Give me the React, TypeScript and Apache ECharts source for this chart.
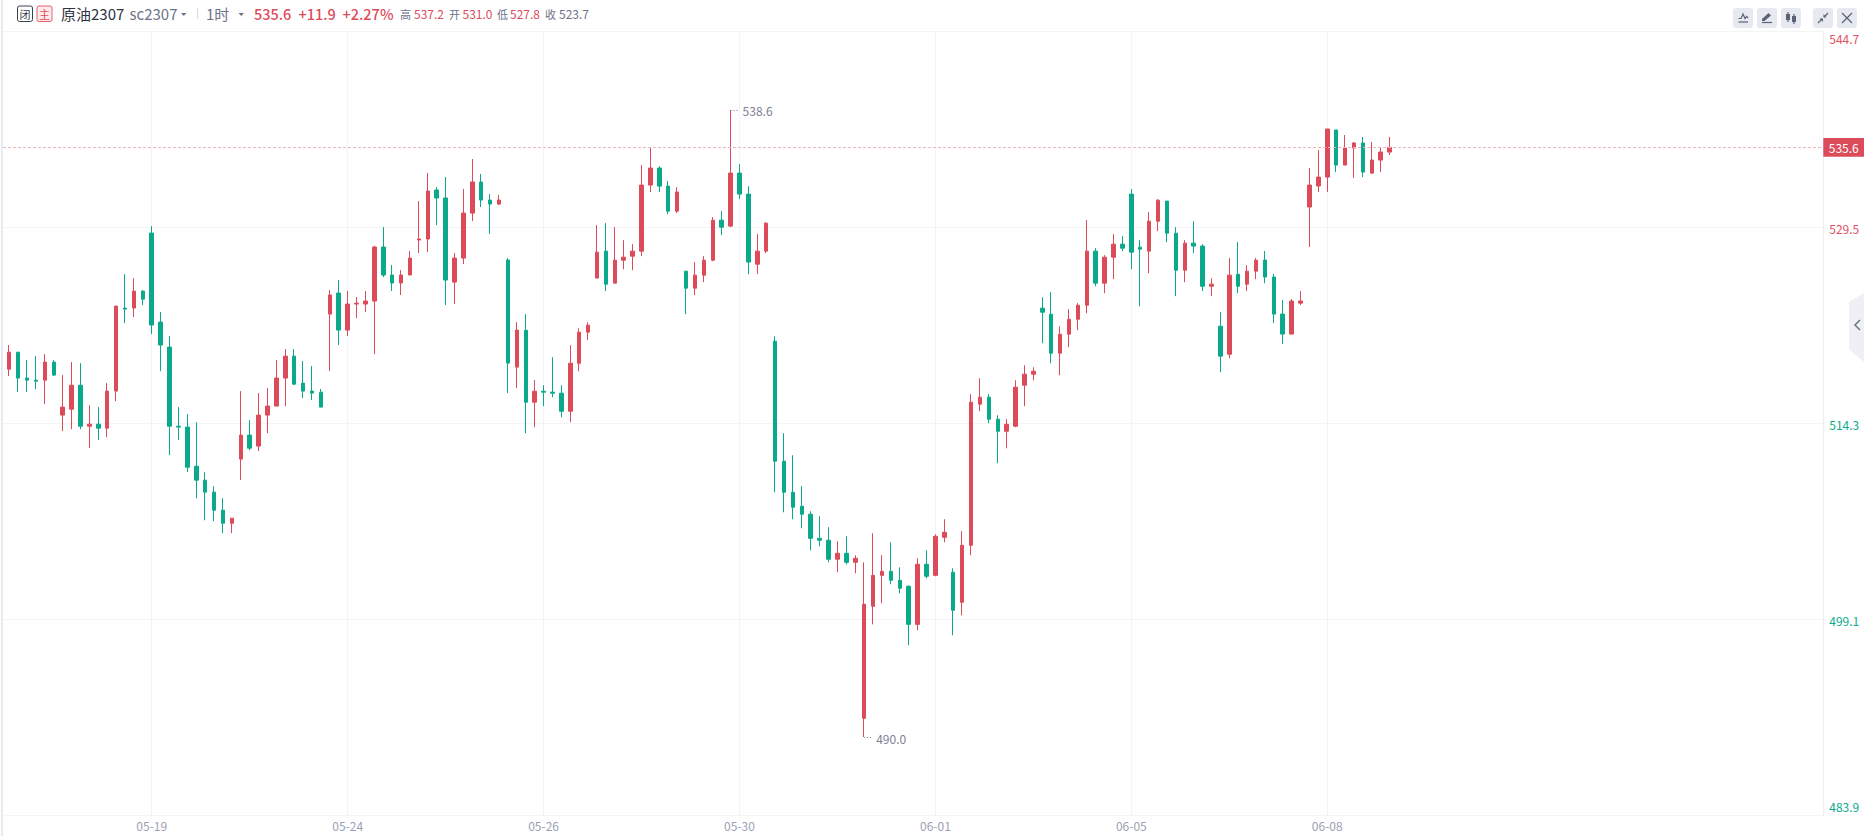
import React, { useEffect, useRef } from "react";
import * as echarts from "echarts";

const UP = "#DC4B5A";
const DOWN = "#0AA98B";
const GRAY = "#6E7389";
const FONT = '"Noto Sans CJK SC", "Noto Sans", sans-serif';

const opens = [518.51,519.83,517.82,517.66,517.66,519.06,514.95,515.41,517.27,514.09,514.25,513.94,516.81,523.25,523.25,524.56,529.06,522.16,520.22,514.09,514.02,510.99,509.91,508.98,507.58,506.57,511.54,513.40,512.55,514.95,515.65,517.82,519.52,517.43,516.81,516.73,522.78,524.41,521.54,523.56,523.56,523.79,527.98,525.81,525.19,525.81,528.52,528.60,532.40,531.78,525.26,527.12,530.61,533.02,531.62,531.31,526.97,518.67,521.53,515.95,516.80,516.73,516.65,515.25,518.97,521.38,525.57,527.66,525.18,526.96,527.27,527.66,532.78,534.10,532.70,530.76,526.11,524.79,525.80,526.96,530.06,529.60,533.71,532.08,526.65,527.66,520.68,511.38,508.97,507.89,507.27,505.40,505.25,503.78,504.24,503.54,491.45,500.13,502.53,502.84,502.15,501.68,498.73,503.39,502.53,505.48,502.77,500.44,504.86,515.80,516.34,514.63,513.70,514.09,517.27,518.12,523.24,522.77,519.75,521.22,522.38,523.47,527.66,525.18,527.19,528.20,532.08,527.97,527.66,529.98,531.54,529.05,526.18,528.28,528.05,524.94,521.84,519.67,525.87,525.10,526.11,526.97,525.65,522.78,521.23,523.63,531.08,532.71,533.40,537.05,534.33,535.65,536.04,533.71,534.72,535.34];
const closes = [519.83,517.82,517.66,517.58,519.06,518.05,515.57,517.27,514.09,514.25,513.94,516.81,523.40,523.17,524.56,523.94,521.93,520.38,514.09,514.02,510.91,509.91,508.98,507.58,506.57,506.96,513.40,512.39,514.95,515.65,517.82,519.52,517.35,516.81,516.66,515.57,524.26,521.54,523.56,523.63,523.79,527.98,525.81,525.19,525.81,527.12,528.60,532.32,531.78,525.42,527.12,530.61,533.02,531.62,531.31,531.62,518.98,521.54,515.95,516.80,516.73,516.65,515.25,518.97,521.38,521.92,527.58,525.10,526.96,527.19,527.66,532.78,534.10,532.70,530.76,532.24,524.79,525.80,526.96,530.06,529.52,533.71,532.08,526.81,527.66,529.83,511.38,508.97,507.81,507.27,505.40,505.25,503.78,504.24,503.54,503.85,500.29,502.53,502.84,502.15,501.53,498.73,503.39,502.46,505.56,505.87,499.82,504.86,515.95,516.34,514.63,513.70,514.24,517.11,518.12,518.35,522.93,519.75,521.22,522.38,523.47,527.66,525.18,527.19,528.20,527.89,527.58,527.81,529.98,531.61,529.05,526.18,528.28,528.05,524.94,525.10,519.52,525.80,524.94,526.11,526.96,525.65,522.78,521.23,523.79,523.79,532.78,533.40,537.13,534.33,535.65,536.04,533.79,534.72,535.34,535.70];
const lows = [517.97,516.73,516.73,516.96,515.80,517.97,513.71,513.86,513.86,512.39,513.01,513.24,516.03,522.08,522.55,523.48,521.23,518.36,511.85,513.01,510.53,508.51,506.80,506.73,505.80,505.80,509.91,512.23,512.16,513.55,515.65,515.65,517.28,516.27,516.11,515.57,518.36,520.38,521.08,522.47,522.94,519.68,525.65,524.57,524.26,525.81,527.51,527.59,529.68,523.48,523.56,526.66,529.99,531.08,528.99,531.23,516.66,517.04,513.55,514.01,515.64,516.34,514.79,514.40,518.35,520.76,525.57,524.56,525.18,526.26,526.19,527.27,532.24,532.24,530.53,530.61,522.77,524.25,525.26,526.88,528.90,529.52,531.69,525.88,525.88,527.50,508.97,507.42,506.88,506.18,504.47,504.78,503.54,502.77,503.39,502.69,490.0,498.73,500.36,501.84,501.14,497.11,498.27,502.30,502.46,505.09,497.88,499.43,504.09,515.25,514.32,511.22,512.38,514.01,515.64,517.65,520.52,518.97,518.04,520.21,521.53,522.85,524.94,524.40,525.49,527.66,526.26,523.39,525.95,529.21,528.36,524.17,525.25,527.50,524.56,524.17,518.27,519.36,524.40,524.56,525.49,525.18,522.08,520.45,521.23,523.48,527.98,532.24,532.24,533.79,534.33,533.33,533.40,533.64,533.79,535.11];
const highs = [520.38,519.83,519.21,519.52,519.68,519.21,518.05,519.06,518.98,515.72,515.57,517.43,523.40,525.88,525.57,524.64,529.60,522.94,521.07,515.57,515.03,514.40,510.53,509.44,508.51,506.96,516.81,514.56,516.66,517.04,519.21,520.07,520.07,519.14,518.75,516.97,524.64,525.42,524.57,524.10,524.57,528.06,529.53,526.58,526.19,527.67,531.54,533.72,532.63,533.41,527.51,532.48,534.80,533.64,532.09,532.01,527.12,522.16,522.77,517.66,517.27,519.44,517.27,520.37,521.69,522.15,529.68,529.83,529.52,528.51,528.20,534.33,535.73,534.25,533.09,532.62,526.11,526.81,527.27,530.30,530.76,538.6,534.41,532.70,528.98,529.91,521.07,513.55,511.84,509.44,507.50,507.11,506.26,505.17,505.56,504.09,503.54,505.79,504.09,505.09,503.15,501.76,503.85,504.47,505.71,506.88,503.08,505.95,516.57,517.81,516.57,514.94,514.63,517.65,518.82,518.66,524.09,524.48,521.84,523.16,523.63,530.06,527.89,527.35,528.98,528.82,532.47,528.51,530.68,531.69,531.54,529.52,528.51,529.98,528.20,525.56,522.93,527.12,528.36,526.57,527.12,527.67,525.88,523.87,523.94,524.56,534.10,535.50,537.13,537.05,536.66,536.12,536.51,536.12,535.65,536.51];

const xTickIndexes = [16, 38, 60, 82, 104, 126, 148];
const xTickLabels = ["05-19", "05-24", "05-26", "05-30", "06-01", "06-05", "06-08"];
const yTicks = [483.9, 499.1, 514.3, 529.5, 544.7];
const prevClose = 523.7;
const lastPrice = 535.6;
const highPoint = { index: 81, value: 538.6 };
const lowPoint = { index: 96, value: 490.0 };

type T = { x: number; t: string; c: string; s?: number; w?: number };
const headerTexts: T[] = [
  { x: 61, t: "原油2307", c: "#2E3242", s: 15 },
  { x: 129.5, t: "sc2307", c: GRAY, s: 15 },
  { x: 206, t: "1时", c: GRAY, s: 15 },
  { x: 254, t: "535.6", c: UP, s: 14.5, w: 500 },
  { x: 298.5, t: "+11.9", c: UP, s: 14.5, w: 500 },
  { x: 342.5, t: "+2.27%", c: UP, s: 14.5, w: 500 },
  { x: 400, t: "高", c: GRAY, s: 11 },
  { x: 414, t: "537.2", c: UP, s: 12 },
  { x: 449, t: "开", c: GRAY, s: 11 },
  { x: 462.5, t: "531.0", c: UP, s: 12 },
  { x: 497, t: "低", c: GRAY, s: 11 },
  { x: 510, t: "527.8", c: UP, s: 12 },
  { x: 545, t: "收", c: GRAY, s: 11 },
  { x: 559, t: "523.7", c: GRAY, s: 12 },
];

const BTN = "#E6E9F0";
const ICON = "#5D6277";
const line = (x1: number, y1: number, x2: number, y2: number, w = 1.2) => ({
  type: "line", shape: { x1, y1, x2, y2 }, style: { stroke: ICON, lineWidth: w }, silent: true,
});
const btn = (x: number) => ({
  type: "rect", shape: { x, y: 8, width: 20, height: 20, r: 3 }, style: { fill: BTN }, silent: true,
});

function buildGraphic() {
  const els: any[] = [
    { type: "rect", shape: { x: 1, y: 0, width: 2, height: 836 }, style: { fill: "#E6EBF2" }, silent: true },
    { type: "rect", shape: { x: 17.5, y: 6, width: 15, height: 15.5, r: 2 }, style: { fill: "#fff", stroke: "#3C4050", lineWidth: 1 }, silent: true },
    { type: "rect", shape: { x: 37, y: 6, width: 15, height: 15.5, r: 2 }, style: { fill: "#FDEBED", stroke: "#E5606C", lineWidth: 1 }, silent: true },
    { type: "text", x: 25, y: 14, style: { text: "闭", fill: "#3C4050", font: `11px ${FONT}`, align: "center", verticalAlign: "middle" }, silent: true },
    { type: "text", x: 44.5, y: 14, style: { text: "主", fill: UP, font: `11px ${FONT}`, align: "center", verticalAlign: "middle" }, silent: true },
    { type: "polygon", shape: { points: [[181, 13], [186.5, 13], [183.75, 16]] }, style: { fill: GRAY }, silent: true },
    { type: "polygon", shape: { points: [[238.5, 13], [244, 13], [241.25, 16]] }, style: { fill: GRAY }, silent: true },
    { type: "rect", shape: { x: 197, y: 8, width: 1, height: 11 }, style: { fill: "#D8DBE3" }, silent: true },
  ];
  headerTexts.forEach((h) =>
    els.push({
      type: "text", x: h.x, y: 13.5, silent: true,
      style: { text: h.t, fill: h.c, font: `${h.w || 400} ${h.s}px ${FONT}`, align: "left", verticalAlign: "middle" },
    })
  );
  [1733, 1757, 1781, 1813, 1837].forEach((x) => els.push(btn(x)));
  els.push(
    line(1738.5, 22, 1748, 22),
    { type: "polyline", shape: { points: [[1738.5, 18.5], [1741, 18.5], [1743, 14], [1745, 18.5], [1746.5, 16.5], [1748, 18]] }, style: { stroke: ICON, lineWidth: 1.2, fill: "none" }, silent: true },
    { type: "polygon", shape: { points: [[1762, 21], [1762, 19], [1768.5, 13], [1771, 15.5], [1764.5, 21]] }, style: { fill: ICON }, silent: true },
    line(1762, 22.5, 1772, 22.5),
    { type: "rect", shape: { x: 1786, y: 14, width: 4, height: 6 }, style: { fill: ICON }, silent: true },
    line(1788, 12, 1788, 22),
    { type: "rect", shape: { x: 1792, y: 16, width: 4, height: 6 }, style: { fill: ICON }, silent: true },
    line(1794, 14, 1794, 24),
    line(1818, 23, 1822, 19), line(1828, 13, 1824, 17),
    { type: "polygon", shape: { points: [[1819.5, 18.5], [1823, 18.5], [1823, 22]] }, style: { fill: ICON }, silent: true },
    { type: "polygon", shape: { points: [[1826.5, 17.5], [1823.5, 17.5], [1823.5, 14]] }, style: { fill: ICON }, silent: true },
    line(1842, 13, 1852, 23), line(1852, 13, 1842, 23),
    { type: "polygon", shape: { points: [[1849, 302], [1864, 293], [1864, 362], [1849, 349]] }, style: { fill: "#EFF0F4" }, silent: true },
    { type: "polyline", shape: { points: [[1860, 320], [1855, 325], [1860, 330]] }, style: { stroke: GRAY, lineWidth: 1.5, fill: "none" }, silent: true }
  );
  return els;
}

export default function App() {
  const ref = useRef<HTMLDivElement>(null);
  useEffect(() => {
    document.body.style.margin = "0";
    document.body.style.overflow = "hidden";
    const chart = echarts.init(ref.current!, undefined, { renderer: "svg" });
    const candles = opens.map((o, i) => [i, o, closes[i], lows[i], highs[i]]);
    const lastClose = closes[closes.length - 1];
    const splitLine = { show: true, lineStyle: { color: "#F3F4F6", width: 1 } };
    const G = "#0AAA8C";
    const R = "#E0505F";
    chart.setOption({
      animation: false,
      backgroundColor: "#fff",
      textStyle: { fontFamily: FONT },
      grid: { left: 3, right: 40.7, top: 31.3, bottom: 20.3, containLabel: false },
      xAxis: {
        type: "value",
        min: -0.7,
        max: 203.7,
        axisLine: { show: true, lineStyle: { color: "#F3F4F6" } },
        axisTick: { show: false, customValues: xTickIndexes },
        splitLine,
        axisLabel: {
          customValues: xTickIndexes,
          color: "#9A9FB5",
          fontSize: 12,
          margin: 4,
          fontFamily: FONT,
          formatter: (v: number) => xTickLabels[xTickIndexes.indexOf(v)] ?? "",
        },
      },
      yAxis: {
        type: "value",
        position: "right",
        min: 483.9,
        max: 544.7,
        scale: true,
        axisLine: { show: true, onZero: false, lineStyle: { color: "#EEEFF2" } },
        axisTick: { show: false, customValues: yTicks },
        splitLine,
        axisLabel: {
          customValues: yTicks,
          margin: 6,
          fontSize: 12,
          fontFamily: FONT,
          verticalAlignMinLabel: "bottom",
          verticalAlignMaxLabel: "top",
          formatter: (v: number) => {
            const s = v.toFixed(1);
            if (v === yTicks[0]) return `{minG|${s}}`;
            if (v === yTicks[yTicks.length - 1]) return `{maxR|${s}}`;
            return v > prevClose ? `{midR|${s}}` : `{midG|${s}}`;
          },
          rich: {
            minG: { color: G, fontSize: 12, fontFamily: FONT, padding: [0, 0, 3, 0] },
            maxR: { color: R, fontSize: 12, fontFamily: FONT, padding: [1, 0, 0, 0] },
            midR: { color: R, fontSize: 12, fontFamily: FONT, padding: [3, 0, 0, 0] },
            midG: { color: G, fontSize: 12, fontFamily: FONT, padding: [2, 0, 0, 0] },
          },
        },
      },
      series: [
        {
          type: "candlestick",
          data: candles,
          encode: { x: 0, y: [1, 2, 3, 4] },
          barWidth: 4,
          itemStyle: { color: UP, color0: DOWN, borderColor: UP, borderColor0: DOWN, borderWidth: 1 },
          markLine: {
            silent: true,
            symbol: "none",
            animation: false,
            data: [
              {
                yAxis: lastClose,
                lineStyle: { color: "#F3B3BB", type: [3, 2], width: 1 },
                label: {
                  show: true,
                  position: "end",
                  distance: 0,
                  formatter: lastPrice.toFixed(1),
                  color: "#fff",
                  fontSize: 12,
                  fontFamily: FONT,
                  backgroundColor: UP,
                  padding: [2, 5.5, 2, 5.5],
                  width: 29.7,
                  height: 14.7,
                  lineHeight: 14.7,
                },
              },
              [
                { coord: [highPoint.index, highPoint.value], lineStyle: { color: "#6E7389", type: [1, 2], width: 1 }, label: { show: false } },
                { coord: [highPoint.index + 1, highPoint.value] },
              ],
              [
                { coord: [lowPoint.index, lowPoint.value], lineStyle: { color: "#6E7389", type: [1, 2], width: 1 }, label: { show: false } },
                { coord: [lowPoint.index + 1, lowPoint.value] },
              ],
            ],
          },
          markPoint: {
            silent: true,
            symbol: "circle",
            symbolSize: 0,
            animation: false,
            data: [
              { coord: [highPoint.index, highPoint.value], label: { show: true, position: "right", distance: 12, offset: [0, 0.5], formatter: highPoint.value.toFixed(1), color: "#7C8094", fontSize: 12, fontFamily: FONT } },
              { coord: [lowPoint.index, lowPoint.value], label: { show: true, position: "right", distance: 12, offset: [0, 1.5], formatter: lowPoint.value.toFixed(1), color: "#7C8094", fontSize: 12, fontFamily: FONT } },
            ],
          },
        },
      ],
      graphic: { elements: buildGraphic() },
    });
    return () => chart.dispose();
  }, []);
  return <div ref={ref} style={{ width: 1864, height: 836 }} />;
}
